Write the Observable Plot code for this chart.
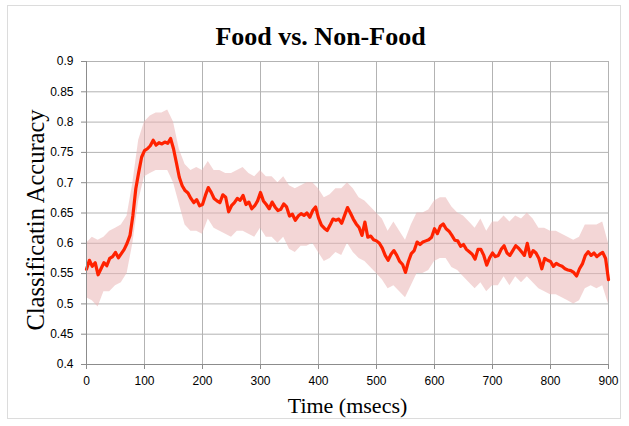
<!DOCTYPE html>
<html><head><meta charset="utf-8">
<script src="https://cdn.jsdelivr.net/npm/d3@7"></script>
<script src="https://cdn.jsdelivr.net/npm/@observablehq/plot@0.6"></script>
<style>
body{margin:0;background:#fff}
#wrap{position:relative;width:629px;height:426px}
#border{position:absolute;left:7px;top:5px;width:612px;height:412px;border:1px solid #dcdcdc;pointer-events:none}
</style>
</head><body><div id="wrap"><div id="border"></div></div>
<script>
// time (ms) of mean samples, every 5 ms
const meanTimes = d3.range(0, 901, 5);
const meanAcc = [
0.557,0.572,0.562,0.568,0.548,0.558,0.568,0.563,0.575,0.578,
0.585,0.576,0.583,0.590,0.600,0.613,0.646,0.690,0.717,0.742,
0.753,0.756,0.761,0.770,0.762,0.766,0.764,0.767,0.765,0.773,
0.756,0.733,0.709,0.695,0.687,0.683,0.674,0.667,0.672,0.662,
0.664,0.679,0.692,0.684,0.674,0.670,0.667,0.680,0.676,0.652,
0.662,0.667,0.674,0.671,0.679,0.664,0.668,0.657,0.662,0.670,
0.684,0.670,0.664,0.657,0.668,0.660,0.654,0.656,0.665,0.660,
0.645,0.648,0.638,0.645,0.649,0.646,0.650,0.643,0.654,0.660,
0.642,0.630,0.625,0.621,0.630,0.640,0.638,0.640,0.633,0.646,
0.659,0.650,0.640,0.632,0.626,0.613,0.635,0.610,0.612,0.606,
0.604,0.600,0.592,0.580,0.572,0.582,0.588,0.580,0.570,0.565,
0.552,0.570,0.583,0.588,0.602,0.598,0.602,0.604,0.606,0.610,
0.624,0.616,0.628,0.632,0.624,0.620,0.613,0.605,0.604,0.595,
0.598,0.590,0.586,0.582,0.574,0.590,0.590,0.580,0.564,0.576,
0.584,0.578,0.580,0.590,0.596,0.584,0.580,0.588,0.596,0.592,
0.586,0.580,0.600,0.578,0.588,0.584,0.575,0.558,0.575,0.572,
0.570,0.562,0.567,0.564,0.562,0.558,0.556,0.555,0.552,0.546,
0.558,0.566,0.580,0.586,0.580,0.584,0.578,0.582,0.585,0.575,
0.540
];
// error band, every 10 ms
const bandTimes = d3.range(0, 901, 10);
const bandLo = [
0.510,0.505,0.495,0.520,0.520,0.530,0.535,0.550,0.600,0.670,
0.710,0.715,0.720,0.720,0.720,0.700,0.665,0.630,0.620,0.620,
0.615,0.640,0.625,0.620,0.615,0.610,0.620,0.620,0.615,0.610,
0.625,0.610,0.610,0.600,0.610,0.590,0.585,0.595,0.595,0.600,
0.585,0.570,0.575,0.585,0.580,0.600,0.585,0.575,0.570,0.560,
0.550,0.540,0.525,0.530,0.520,0.510,0.530,0.550,0.550,0.555,
0.570,0.575,0.575,0.560,0.555,0.545,0.535,0.525,0.535,0.520,
0.530,0.530,0.545,0.530,0.545,0.535,0.545,0.535,0.525,0.520,
0.515,0.515,0.510,0.505,0.500,0.505,0.525,0.530,0.525,0.530,
0.500
];
const bandHi = [
0.600,0.610,0.605,0.610,0.620,0.625,0.630,0.645,0.700,0.770,
0.800,0.810,0.815,0.815,0.820,0.800,0.755,0.730,0.720,0.725,
0.720,0.735,0.720,0.720,0.715,0.715,0.720,0.725,0.715,0.710,
0.720,0.710,0.710,0.700,0.710,0.695,0.690,0.695,0.700,0.700,
0.690,0.675,0.680,0.690,0.690,0.700,0.690,0.675,0.670,0.660,
0.650,0.640,0.620,0.635,0.620,0.605,0.630,0.650,0.650,0.655,
0.670,0.675,0.675,0.660,0.650,0.645,0.635,0.625,0.640,0.620,
0.635,0.635,0.645,0.635,0.645,0.640,0.650,0.640,0.625,0.625,
0.620,0.620,0.615,0.610,0.605,0.610,0.630,0.630,0.630,0.635,
0.600
];
const xTicks = [0,100,200,300,400,500,600,700,800,900];
const yTicks = [0.4,0.45,0.5,0.55,0.6,0.65,0.7,0.75,0.8,0.85,0.9];

const meanData = meanTimes.map((t,i)=>({t, v: meanAcc[i]}));
const bandData = bandTimes.map((t,i)=>({t, lo: bandLo[i], hi: bandHi[i]}));

const sans = "'Liberation Sans', Arial, sans-serif";
const serif = "'Liberation Serif', 'Times New Roman', serif";

const chart = Plot.plot({
  width: 629, height: 426,
  marginLeft: 86, marginRight: 21, marginTop: 61, marginBottom: 62,
  style: {background: "transparent", color: "#000"},
  x: {domain: [0, 900]},
  y: {domain: [0.4, 0.9]},
  marks: [
    Plot.ruleX(xTicks, {stroke: "#b3b3b3", strokeWidth: 1}),
    Plot.ruleY(yTicks, {stroke: "#b3b3b3", strokeWidth: 1}),
    Plot.areaY(bandData, {x: "t", y1: "lo", y2: "hi", fill: "#eab4b4", fillOpacity: 0.55}),
    Plot.line(meanData, {x: "t", y: "v", stroke: "#ff2200", strokeWidth: 3.2}),
    Plot.ruleX([0], {stroke: "#8c8c8c"}),
    Plot.ruleY([0.4], {stroke: "#8c8c8c"}),
    Plot.axisY(yTicks, {tickSize: 5, tickPadding: 8, fontSize: 12, fontFamily: sans, stroke: "#8c8c8c", label: null,
      tickFormat: d => String(Math.round(d * 100) / 100)}),
    Plot.axisX(xTicks, {tickSize: 5, tickPadding: 7, fontSize: 12, fontFamily: sans, stroke: "#8c8c8c", label: null,
      tickFormat: d => String(d)}),
    Plot.text(["Food vs. Non-Food"], {frameAnchor: "top", lineAnchor: "bottom", dx: -27, dy: -17, fontSize: 26, fontWeight: "bold", fontFamily: serif, fill: "#000"}),
    Plot.text(["Time (msecs)"], {frameAnchor: "bottom", lineAnchor: "bottom", dy: 48, fontSize: 22, fontFamily: serif, fill: "#000"}),
    Plot.text(["Classificatin Accuracy"], {frameAnchor: "left", textAnchor: "middle", lineAnchor: "middle", rotate: -90, dx: -50, dy: 7, fontSize: 24.5, fontFamily: serif, fill: "#000"})
  ]
});
document.getElementById("wrap").appendChild(chart);
chart.style.position = "absolute";
chart.style.left = "0"; chart.style.top = "0";
</script>
</body></html>
